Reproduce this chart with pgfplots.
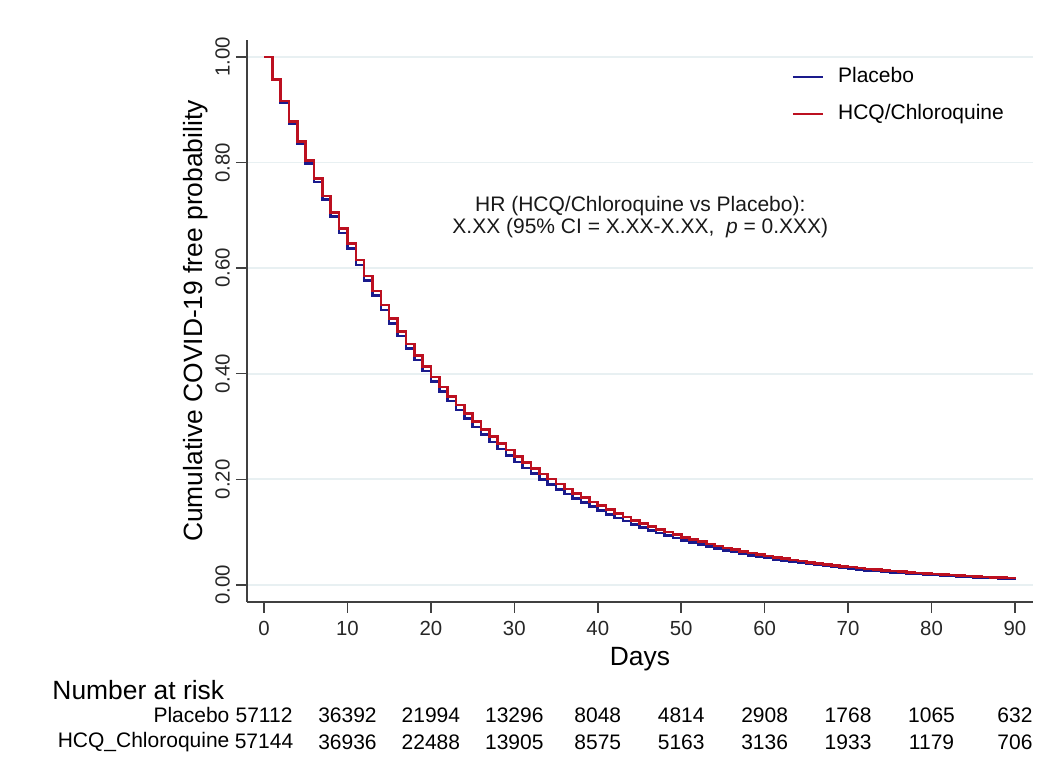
\documentclass[border=0pt]{standalone}
\usepackage{fontspec}
\setmainfont{Liberation Sans}
\usepackage{pgfplots}
\usepackage{pgfplotstable}
\pgfplotsset{compat=1.18}

\definecolor{kmblue}{RGB}{26,26,140}
\definecolor{kmred}{RGB}{188,16,32}
\definecolor{gridc}{RGB}{232,240,242}

\newcommand{\fsmall}{\fontsize{10.2}{11.5}\selectfont}
\newcommand{\fmid}{\fontsize{10.5}{11.5}\selectfont}
\newcommand{\fbig}{\fontsize{13.2}{14.5}\selectfont}

% Kaplan-Meier survival, day by day (read off the steps)
\pgfplotstableread{
day surv
0 1.0000
1 0.9559
2 0.9138
3 0.8736
4 0.8351
5 0.7983
6 0.7631
7 0.7295
8 0.6974
9 0.6666
10 0.6372
11 0.6059
12 0.5762
13 0.5479
14 0.5210
15 0.4954
16 0.4711
17 0.4479
18 0.4259
19 0.4050
20 0.3851
21 0.3662
22 0.3482
23 0.3311
24 0.3149
25 0.2994
26 0.2847
27 0.2707
28 0.2574
29 0.2448
30 0.2328
31 0.2214
32 0.2106
33 0.2003
34 0.1905
35 0.1811
36 0.1723
37 0.1638
38 0.1558
39 0.1482
40 0.1409
41 0.1339
42 0.1272
43 0.1208
44 0.1147
45 0.1090
46 0.1035
47 0.0983
48 0.0934
49 0.0887
50 0.0843
51 0.0802
52 0.0762
53 0.0725
54 0.0689
55 0.0655
56 0.0623
57 0.0592
58 0.0563
59 0.0536
60 0.0509
61 0.0485
62 0.0461
63 0.0439
64 0.0417
65 0.0397
66 0.0378
67 0.0359
68 0.0342
69 0.0325
70 0.0310
71 0.0294
72 0.0280
73 0.0266
74 0.0253
75 0.0240
76 0.0228
77 0.0217
78 0.0206
79 0.0196
80 0.0186
81 0.0177
82 0.0168
83 0.0160
84 0.0151
85 0.0144
86 0.0136
87 0.0129
88 0.0123
89 0.0117
90 0.0111
}\placebo

\pgfplotstableread{
day surv
0 1.0000
1 0.9573
2 0.9164
3 0.8773
4 0.8398
5 0.8040
6 0.7696
7 0.7368
8 0.7053
9 0.6752
10 0.6464
11 0.6151
12 0.5853
13 0.5570
14 0.5300
15 0.5044
16 0.4799
17 0.4567
18 0.4346
19 0.4136
20 0.3935
21 0.3751
22 0.3574
23 0.3407
24 0.3247
25 0.3094
26 0.2949
27 0.2811
28 0.2679
29 0.2553
30 0.2433
31 0.2318
32 0.2209
33 0.2105
34 0.2005
35 0.1911
36 0.1821
37 0.1735
38 0.1653
39 0.1575
40 0.1501
41 0.1426
42 0.1356
43 0.1289
44 0.1225
45 0.1164
46 0.1107
47 0.1052
48 0.1000
49 0.0951
50 0.0904
51 0.0860
52 0.0818
53 0.0778
54 0.0740
55 0.0704
56 0.0670
57 0.0637
58 0.0606
59 0.0577
60 0.0549
61 0.0523
62 0.0498
63 0.0475
64 0.0452
65 0.0431
66 0.0411
67 0.0391
68 0.0373
69 0.0355
70 0.0338
71 0.0322
72 0.0306
73 0.0292
74 0.0278
75 0.0264
76 0.0252
77 0.0239
78 0.0228
79 0.0217
80 0.0206
81 0.0196
82 0.0186
83 0.0177
84 0.0168
85 0.0160
86 0.0152
87 0.0144
88 0.0137
89 0.0130
90 0.0124
}\hcq

\begin{document}
\begin{tikzpicture}
\path[use as bounding box] (-123.5pt,-86pt) rectangle (401pt,301pt);
\begin{axis}[
    width=393pt, height=281pt,
    scale only axis,
    anchor=south west, at={(0,0)},
    xmin=-2.04, xmax=92.16,
    ymin=-0.0322, ymax=1.032,
    axis x line*=bottom,
    axis y line*=left,
    axis line style={black!75, line width=0.75pt},
    xtick={0,10,...,90},
    ytick={0,0.2,...,1.0},
    tick align=outside,
    major tick length=5.5pt,
    tick style={black!75, line width=0.75pt},
    ymajorgrids,
    grid style={gridc, line width=0.9pt},
    /pgf/number format/assume math mode=true,
    yticklabel style={/pgf/number format/fixed, /pgf/number format/fixed zerofill, /pgf/number format/precision=2},
    yticklabel style={rotate=90, anchor=south, font=\fsmall, text=black!85},
    yticklabel shift=-0.5pt,
    xticklabel style={font=\fsmall, text=black!85},
    xticklabel shift=0.5pt,
    xlabel={Days},
    ylabel={Cumulative COVID-19 free probability},
    xlabel style={font=\fbig, yshift=1pt},
    ylabel style={font=\fbig, yshift=-3pt},
    legend style={draw=none, fill=none, font=\fmid,
        at={(rel axis cs:0.685,0.966)}, anchor=north west,
        row sep=5.5pt},
    legend cell align=left,
    legend image code/.code={\draw[#1, line width=1pt] (0pt,0pt) -- (15pt,0pt); \path (20pt,0pt);},
    clip=false,
]
\addplot[const plot, kmblue, line width=1.3pt] table[x=day, y=surv] {\placebo};
\addlegendentry{Placebo}
\addplot[const plot, kmred, line width=1.3pt] table[x=day, y=surv] {\hcq};
\addlegendentry{HCQ/Chloroquine}

\node[font=\fmid, align=center, text=black!90] at (axis cs:45.1,0.697)
    {HR (HCQ/Chloroquine vs Placebo):\\[-0.5pt] X.XX (95\% CI = X.XX-X.XX,\ \ \textit{p} = 0.XXX)};

% number at risk
\node[font=\fbig, anchor=west, inner sep=0pt] at (axis cs:-25.4,-0.199) {Number at risk};
\node[font=\fmid, anchor=east, inner sep=0pt] at (axis cs:-4.1,-0.246) {Placebo};
\node[font=\fmid, anchor=east, inner sep=0pt] at (axis cs:-4.1,-0.297) {HCQ\_Chloroquine};
\node[font=\fmid] at (axis cs:0,-0.246) {57112};
\node[font=\fmid] at (axis cs:10,-0.246) {36392};
\node[font=\fmid] at (axis cs:20,-0.246) {21994};
\node[font=\fmid] at (axis cs:30,-0.246) {13296};
\node[font=\fmid] at (axis cs:40,-0.246) {8048};
\node[font=\fmid] at (axis cs:50,-0.246) {4814};
\node[font=\fmid] at (axis cs:60,-0.246) {2908};
\node[font=\fmid] at (axis cs:70,-0.246) {1768};
\node[font=\fmid] at (axis cs:80,-0.246) {1065};
\node[font=\fmid] at (axis cs:90,-0.246) {632};
\node[font=\fmid] at (axis cs:0,-0.297) {57144};
\node[font=\fmid] at (axis cs:10,-0.297) {36936};
\node[font=\fmid] at (axis cs:20,-0.297) {22488};
\node[font=\fmid] at (axis cs:30,-0.297) {13905};
\node[font=\fmid] at (axis cs:40,-0.297) {8575};
\node[font=\fmid] at (axis cs:50,-0.297) {5163};
\node[font=\fmid] at (axis cs:60,-0.297) {3136};
\node[font=\fmid] at (axis cs:70,-0.297) {1933};
\node[font=\fmid] at (axis cs:80,-0.297) {1179};
\node[font=\fmid] at (axis cs:90,-0.297) {706};
\end{axis}
\end{tikzpicture}
\end{document}
